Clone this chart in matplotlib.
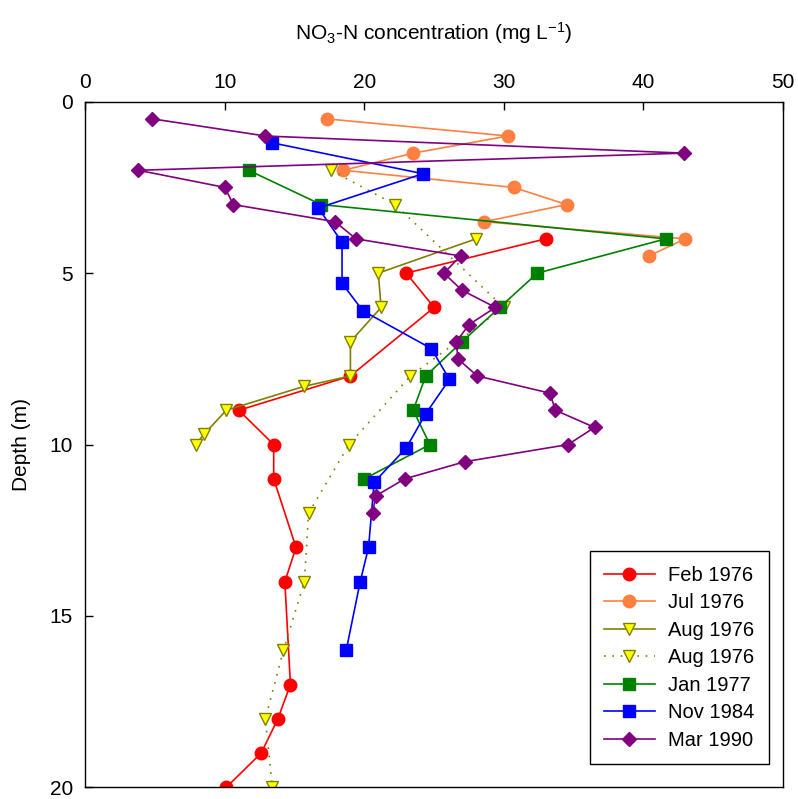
import matplotlib
matplotlib.use('Agg')
import matplotlib.pyplot as plt

plt.rcParams['font.family'] = ['Liberation Sans', 'DejaVu Sans']
plt.rcParams['mathtext.fontset'] = 'custom'
plt.rcParams['mathtext.rm'] = 'Liberation Sans'
plt.rcParams['mathtext.it'] = 'Liberation Sans:italic'
plt.rcParams['mathtext.bf'] = 'Liberation Sans:bold'

# NO3-N concentration (mg/L) vs depth (m)
feb76_depth = [4, 5, 6, 8, 9, 10, 11, 13, 14, 17, 18, 19, 20]
feb76_conc = [33, 23, 25, 19, 11, 13.5, 13.5, 15.1, 14.3, 14.7, 13.8, 12.6, 10.1]

jul76_depth = [0.5, 1, 1.5, 2, 2.5, 3, 3.5, 4, 4.5]
jul76_conc = [17.3, 30.3, 23.5, 18.5, 30.7, 34.5, 28.6, 43, 40.4]

aug76a_depth = [4, 5, 6, 7, 8, 8.3, 9, 9.7, 10]
aug76a_conc = [28, 21, 21.2, 19, 19, 15.7, 10.1, 8.5, 7.9]

aug76b_depth = [2, 3, 6, 8, 10, 12, 14, 16, 18, 20]
aug76b_conc = [17.6, 22.2, 30, 23.3, 18.9, 16, 15.7, 14.2, 12.9, 13.4]

jan77_depth = [2, 3, 4, 5, 6, 7, 8, 9, 10, 11]
jan77_conc = [11.7, 16.9, 41.6, 32.4, 29.7, 27, 24.4, 23.5, 24.7, 20]

nov84_depth = [1.2, 2.1, 3.1, 4.1, 5.3, 6.1, 7.2, 8.1, 9.1, 10.1, 11.1, 13, 14, 16]
nov84_conc = [13.4, 24.2, 16.7, 18.4, 18.4, 19.9, 24.8, 26.1, 24.4, 23, 20.7, 20.3, 19.7, 18.7]

mar90_depth = [0.5, 1, 1.5, 2, 2.5, 3, 3.5, 4, 4.5, 5, 5.5, 6, 6.5, 7, 7.5, 8,
               8.5, 9, 9.5, 10, 10.5, 11, 11.5, 12]
mar90_conc = [4.8, 12.9, 42.9, 3.8, 10, 10.6, 17.9, 19.4, 26.9, 25.7, 27, 29.4, 27.5,
              26.6, 26.7, 28.1, 33.3, 33.7, 36.5, 34.6, 27.2, 22.9, 20.8, 20.6]

fig = plt.figure(figsize=(7.98, 7.99), dpi=100)
ax = fig.add_axes([0.107, 0.0145, 0.874, 0.8582])

lw = 1.2
ax.plot(feb76_conc, feb76_depth, color='#FF0000', lw=lw, marker='o', ms=9,
        label='Feb 1976')
ax.plot(jul76_conc, jul76_depth, color='#FF8040', lw=lw, marker='o', ms=9,
        label='Jul 1976')
ax.plot(aug76a_conc, aug76a_depth, color='#808000', lw=lw, marker='v', ms=9,
        mfc='#FFFF00', mec='#808000', label='Aug 1976')
ax.plot(aug76b_conc, aug76b_depth, color='#808000', lw=lw, ls=(0, (1, 4)),
        marker='v', ms=9, mfc='#FFFF00', mec='#808000', label='Aug 1976')
ax.plot(jan77_conc, jan77_depth, color='#008000', lw=lw, marker='s', ms=8,
        label='Jan 1977')
ax.plot(nov84_conc, nov84_depth, color='#0000FF', lw=lw, marker='s', ms=8,
        label='Nov 1984')
ax.plot(mar90_conc, mar90_depth, color='#800080', lw=lw, marker='D', ms=7.5,
        label='Mar 1990')

ax.set_xlim(0, 50)
ax.set_ylim(20, 0)
ax.set_xticks([0, 10, 20, 30, 40, 50])
ax.set_yticks([0, 5, 10, 15, 20])
ax.xaxis.set_ticks_position('top')
ax.xaxis.set_label_position('top')
ax.tick_params(direction='in', length=6, width=1, labelsize=15)
ax.tick_params(axis='x', pad=7)
ax.tick_params(axis='y', pad=9)
ax.set_xlabel(r'NO$_\mathregular{3}$-N concentration (mg L$^{\mathregular{-1}}$)',
              fontsize=15, labelpad=24)
ax.set_ylabel('Depth (m)', fontsize=15, labelpad=13)
for sp in ax.spines.values():
    sp.set_linewidth(1)

leg = ax.legend(loc='lower right', bbox_to_anchor=(0.9795, 0.034),
                borderaxespad=0, fontsize=14.5, frameon=True, fancybox=False,
                edgecolor='black', framealpha=1, handlelength=2.5,
                handletextpad=0.65, labelspacing=0.42, borderpad=0.72)
leg.get_frame().set_linewidth(1)

fig.savefig('out.png', dpi=100)
